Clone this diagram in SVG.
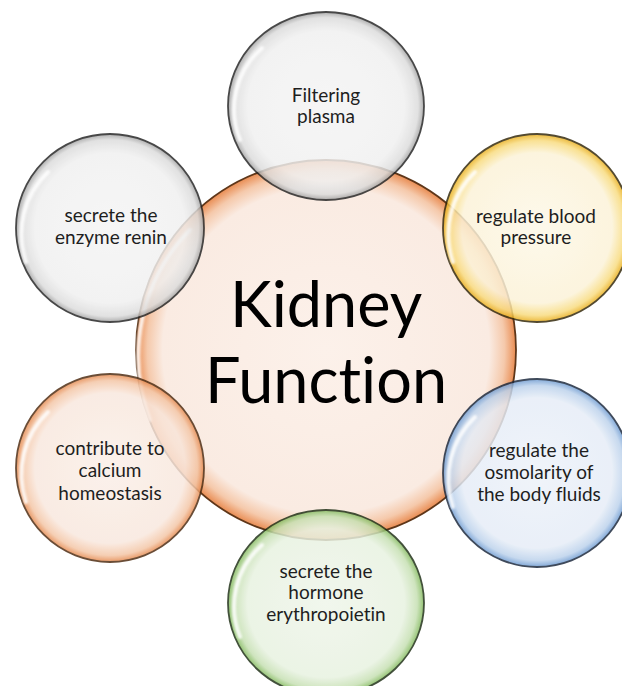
<svg xmlns="http://www.w3.org/2000/svg" width="622" height="686" viewBox="0 0 622 686">
<defs>
<radialGradient id="gCenter" cx="50%" cy="50%" r="50%">
<stop offset="0" stop-color="#fcf1ea"/>
<stop offset="0.86" stop-color="#faebe2"/>
<stop offset="0.94" stop-color="#f5c9ab"/>
<stop offset="1" stop-color="#e98c52"/>
</radialGradient>
<radialGradient id="gGrey" cx="50%" cy="50%" r="50%">
<stop offset="0" stop-color="#f5f5f5"/>
<stop offset="0.8" stop-color="#f0f0f0"/>
<stop offset="0.94" stop-color="#dcdcdc"/>
<stop offset="1" stop-color="#a0a0a0"/>
</radialGradient>
<radialGradient id="gYellow" cx="50%" cy="50%" r="50%">
<stop offset="0" stop-color="#fdf8e8"/>
<stop offset="0.8" stop-color="#fcf3d8"/>
<stop offset="0.93" stop-color="#f9dc80"/>
<stop offset="1" stop-color="#e8ac18"/>
</radialGradient>
<radialGradient id="gBlue" cx="50%" cy="50%" r="50%">
<stop offset="0" stop-color="#edf2f9"/>
<stop offset="0.8" stop-color="#e6edf7"/>
<stop offset="0.93" stop-color="#bcd2ec"/>
<stop offset="1" stop-color="#6a98d0"/>
</radialGradient>
<radialGradient id="gOrange" cx="50%" cy="50%" r="50%">
<stop offset="0" stop-color="#fbefe8"/>
<stop offset="0.8" stop-color="#f9e8de"/>
<stop offset="0.93" stop-color="#f4c6a6"/>
<stop offset="1" stop-color="#e4864a"/>
</radialGradient>
<radialGradient id="gGreen" cx="50%" cy="50%" r="50%">
<stop offset="0" stop-color="#eff6ea"/>
<stop offset="0.8" stop-color="#e8f2e1"/>
<stop offset="0.93" stop-color="#c6e0b2"/>
<stop offset="1" stop-color="#80b85a"/>
</radialGradient>
<filter id="soft" x="-20%" y="-20%" width="140%" height="140%">
<feGaussianBlur stdDeviation="1.2"/>
</filter>
</defs>
<style>
.small{stroke-width:1.8;opacity:0.84}
.gloss{fill:none;stroke:#ffffff;stroke-width:4;stroke-linecap:round;opacity:0.85;filter:url(#soft)}
.lbl{font-family:Lato,"Open Sans","Liberation Sans",sans-serif;font-size:19px;fill:#1e1e1e;text-anchor:middle;font-variant-ligatures:none}
.big{font-family:Lato,"Open Sans","Liberation Sans",sans-serif;font-size:63px;fill:#000000;text-anchor:middle;font-variant-ligatures:none}
</style>
<rect width="622" height="686" fill="#ffffff"/>

<g id="center">
<circle cx="326" cy="350" r="190" fill="url(#gCenter)" stroke="#5e3619" stroke-width="1.8"/>
<path class="gloss" d="M 150 420 A 180 180 0 0 1 190 230"/>
</g>

<g id="n-top">
<ellipse class="small" cx="326" cy="106" rx="98" ry="94" fill="url(#gGrey)" stroke="#262626"/>
<path class="gloss" d="M 240 140 A 88 84 0 0 1 262 48"/>
</g>
<g id="n-upleft">
<ellipse class="small" cx="110" cy="228" rx="94" ry="94" fill="url(#gGrey)" stroke="#262626"/>
<path class="gloss" d="M 26 262 A 86 86 0 0 1 48 172"/>
</g>
<g id="n-upright">
<ellipse class="small" cx="537" cy="228" rx="94" ry="94" fill="url(#gYellow)" stroke="#33280a"/>
<path class="gloss" d="M 453 262 A 86 86 0 0 1 475 172"/>
</g>
<g id="n-lowright">
<ellipse class="small" cx="537" cy="473" rx="94" ry="94" fill="url(#gBlue)" stroke="#1b283c"/>
<path class="gloss" d="M 453 507 A 86 86 0 0 1 475 417"/>
</g>
<g id="n-lowleft">
<ellipse class="small" cx="110" cy="468" rx="94" ry="94" fill="url(#gOrange)" stroke="#4e2c12"/>
<path class="gloss" d="M 26 502 A 86 86 0 0 1 48 412"/>
</g>
<g id="n-bottom">
<ellipse class="small" cx="326" cy="603" rx="98" ry="93" fill="url(#gGreen)" stroke="#1f3016"/>
<path class="gloss" d="M 240 637 A 88 84 0 0 1 262 545"/>
</g>

<g id="labels">
<text class="big" x="326" y="327">Kidney</text>
<text class="big" x="326" y="403">Function</text>
<text class="lbl" x="326" y="102">Filtering</text>
<text class="lbl" x="326" y="123">plasma</text>
<text class="lbl" x="111" y="222">secrete the</text>
<text class="lbl" x="111" y="244">enzyme renin</text>
<text class="lbl" x="536" y="223">regulate blood</text>
<text class="lbl" x="536" y="244">pressure</text>
<text class="lbl" x="539" y="457">regulate the</text>
<text class="lbl" x="539" y="479">osmolarity of</text>
<text class="lbl" x="539" y="501">the body fluids</text>
<text class="lbl" x="110" y="455">contribute to</text>
<text class="lbl" x="110" y="477">calcium</text>
<text class="lbl" x="110" y="500">homeostasis</text>
<text class="lbl" x="326" y="578">secrete the</text>
<text class="lbl" x="326" y="599">hormone</text>
<text class="lbl" x="326" y="621">erythropoietin</text>
</g>
</svg>
